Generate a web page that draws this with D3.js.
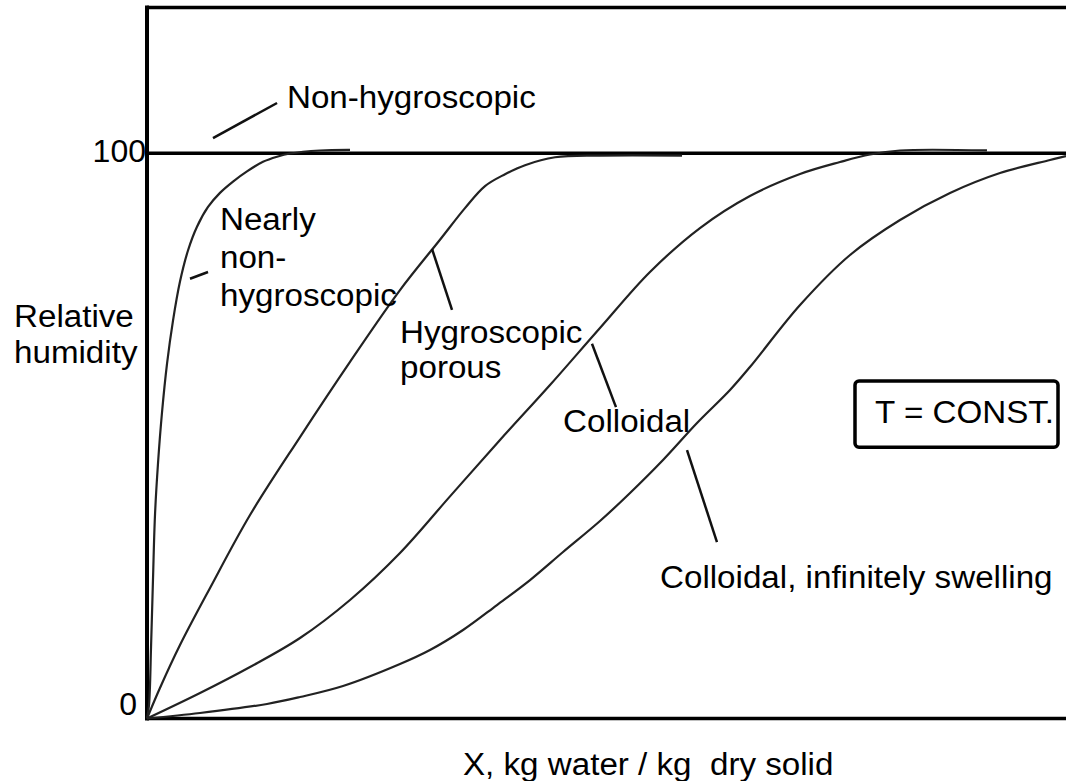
<!DOCTYPE html>
<html><head><meta charset="utf-8">
<script src="https://cdn.jsdelivr.net/npm/d3@7"></script>
<style>
html,body{margin:0;padding:0;background:#fff;}
svg{display:block;}
text{font-family:"Liberation Sans", Arial, sans-serif; fill:#000;}
</style></head><body>
<svg id="chart" width="1066" height="781"></svg>
<script>
// ---- data (X in arbitrary units 0-100 across the visible plot, Y = relative humidity %) ----
const yTickValues = [0, 100];
const yTickLabels = ["0", "100"];
const yAxisTitle = ["Relative", "humidity"];
const xAxisTitle = "X, kg water / kg  dry solid";
const yFrameTop = 125.8;
const xFrameRight = 101;

const nonHygroX = [0, 0.22, 0.44, 0.65, 0.87, 1.20, 1.63, 2.18, 2.83, 3.59, 4.46, 5.44, 6.64, 7.94, 9.36, 10.88, 12.62, 14.15, 15.56, 18.82, 22.09];
const nonHygroY = [0, 2.39, 12.65, 24.5, 36.0, 45.2, 54.1, 62.8, 70.4, 77.3, 82.8, 87.0, 90.5, 93.0, 95.0, 96.8, 98.5, 99.4, 99.96, 100.5, 100.6];

const porousX = [0, 1.41, 3.59, 6.86, 11.21, 16.65, 22.09, 27.53, 31.88, 34.60, 36.78, 38.96, 41.13, 44.40, 49.29, 58.22];
const porousY = [0, 5.40, 13.0, 23.1, 36.0, 49.8, 63.1, 75.8, 84.7, 90.3, 94.2, 96.3, 97.9, 99.3, 99.6, 99.6];

const colloidalX = [0, 5.77, 11.21, 16.65, 22.09, 27.53, 32.97, 38.41, 43.85, 49.29, 54.73, 60.17, 65.61, 71.06, 75.41, 78.67, 81.94, 91.40];
const colloidalY = [0, 4.51, 9.11, 14.24, 20.97, 29.28, 39.3, 49.27, 59.0, 69.09, 79.0, 86.78, 92.45, 96.34, 98.46, 99.79, 100.5, 100.5];

const swellingX = [0, 5.77, 13.06, 16.65, 21.33, 27.53, 30.79, 34.39, 38.08, 41.68, 45.27, 49.29, 52.56, 56.15, 59.85, 63.44, 65.61, 71.06, 76.50, 81.94, 87.38, 92.82, 98.26, 100];
const swellingY = [0, 0.97, 2.57, 3.80, 5.75, 9.64, 12.12, 15.66, 20.08, 24.50, 29.46, 34.94, 39.90, 45.74, 52.28, 58.12, 62.19, 73.16, 82.01, 88.20, 92.98, 96.51, 98.81, 99.52];

const seriesX = [nonHygroX, porousX, colloidalX, swellingX];
const seriesY = [nonHygroY, porousY, colloidalY, swellingY];

// annotations: label lines, anchor (data units), leader line ends (data units)
const annotLines = [["Non-hygroscopic"], ["Nearly", "non-", "hygroscopic"], ["Hygroscopic", "porous"], ["Colloidal"], ["Colloidal, infinitely swelling"]];
const annotX = [15.23, 7.94, 27.53, 45.27, 55.82];
const annotY = [108.0, 86.4, 66.4, 50.7, 23.1];
const annotLeading = [0, 38, 35, 0, 0];
const leaderX1 = [7.18, 4.68, 31.01, 48.42, 58.76];
const leaderY1 = [102.7, 77.8, 83.1, 66.3, 47.5];
const leaderX2 = [14.15, 6.64, 33.19, 51.03, 62.02];
const leaderY2 = [108.9, 79.0, 72.3, 55.1, 31.2];

const boxText = "T = CONST.";
const boxX = [77.04, 99.13];
const boxY = [48.0, 59.7];
const boxTextX = 79.22, boxTextY = 52.3;

// ---- drawing ----
const svg = d3.select("#chart");
const x = d3.scaleLinear().domain([0, 100]).range([147, 1066]);
const y = d3.scaleLinear().domain([0, 100]).range([718.5, 153.3]);
const FS = 31, SX = 1.07;

// frame
const frame = svg.append("g").attr("stroke", "#000").attr("fill", "none");
frame.append("line").attr("x1", x(0)).attr("x2", x(0)).attr("y1", y(yFrameTop) - 2).attr("y2", y(0) + 2).attr("stroke-width", 4);
frame.append("line").attr("x1", x(0)).attr("x2", x(xFrameRight)).attr("y1", y(yFrameTop)).attr("y2", y(yFrameTop)).attr("stroke-width", 3.5);
frame.append("line").attr("x1", x(0)).attr("x2", x(xFrameRight)).attr("y1", y(0)).attr("y2", y(0)).attr("stroke-width", 3.5);
frame.append("line").attr("x1", x(0)).attr("x2", x(xFrameRight)).attr("y1", y(100)).attr("y2", y(100)).attr("stroke-width", 3.5);

// y axis tick labels
const yAxis = svg.append("g").attr("transform", `translate(${x(0)},0)`)
  .call(d3.axisLeft(y).tickValues(yTickValues).tickFormat((d, i) => yTickLabels[i]).tickSize(0).tickPadding(1));
yAxis.select(".domain").remove();
yAxis.selectAll("text")
  .attr("font-family", "'Liberation Sans', Arial, sans-serif")
  .attr("font-size", 32).attr("fill", "#000")
  .attr("x", d => d === 0 ? -10 : -1)
  .attr("dy", d => d === 0 ? "-0.11em" : "0.27em");

// curves
const line = d3.line().curve(d3.curveCatmullRom.alpha(0.5)).x(d => x(d[0])).y(d => y(d[1]));
seriesX.forEach((xs, i) => {
  const pts = xs.map((v, j) => [v, seriesY[i][j]]);
  svg.append("path").datum(pts).attr("d", line)
    .attr("fill", "none").attr("stroke", "#222").attr("stroke-width", 2.2)
    .attr("stroke-linejoin", "round");
});

// leaders
annotLines.forEach((_, i) => {
  svg.append("line")
    .attr("x1", x(leaderX1[i])).attr("y1", y(leaderY1[i]))
    .attr("x2", x(leaderX2[i])).attr("y2", y(leaderY2[i]))
    .attr("stroke", "#111").attr("stroke-width", 2.5);
});

function label(txt, px, py, anchor) {
  return svg.append("text")
    .attr("transform", `translate(${px},${py}) scale(${SX},1)`)
    .attr("font-size", FS).attr("text-anchor", anchor || "start")
    .style("white-space", "pre").text(txt);
}

annotLines.forEach((lines, i) => {
  lines.forEach((t, k) => label(t, x(annotX[i]), y(annotY[i]) + k * annotLeading[i]));
});

// T = CONST box
svg.append("rect")
  .attr("x", x(boxX[0])).attr("y", y(boxY[1]))
  .attr("width", x(boxX[1]) - x(boxX[0])).attr("height", y(boxY[0]) - y(boxY[1]))
  .attr("rx", 4).attr("fill", "none").attr("stroke", "#000").attr("stroke-width", 3.5);
label(boxText, x(boxTextX), y(boxTextY));

// axis titles
yAxisTitle.forEach((t, k) => label(t, 14, 327 + k * 36));
label(xAxisTitle, 463, 775);
</script>
</body></html>
